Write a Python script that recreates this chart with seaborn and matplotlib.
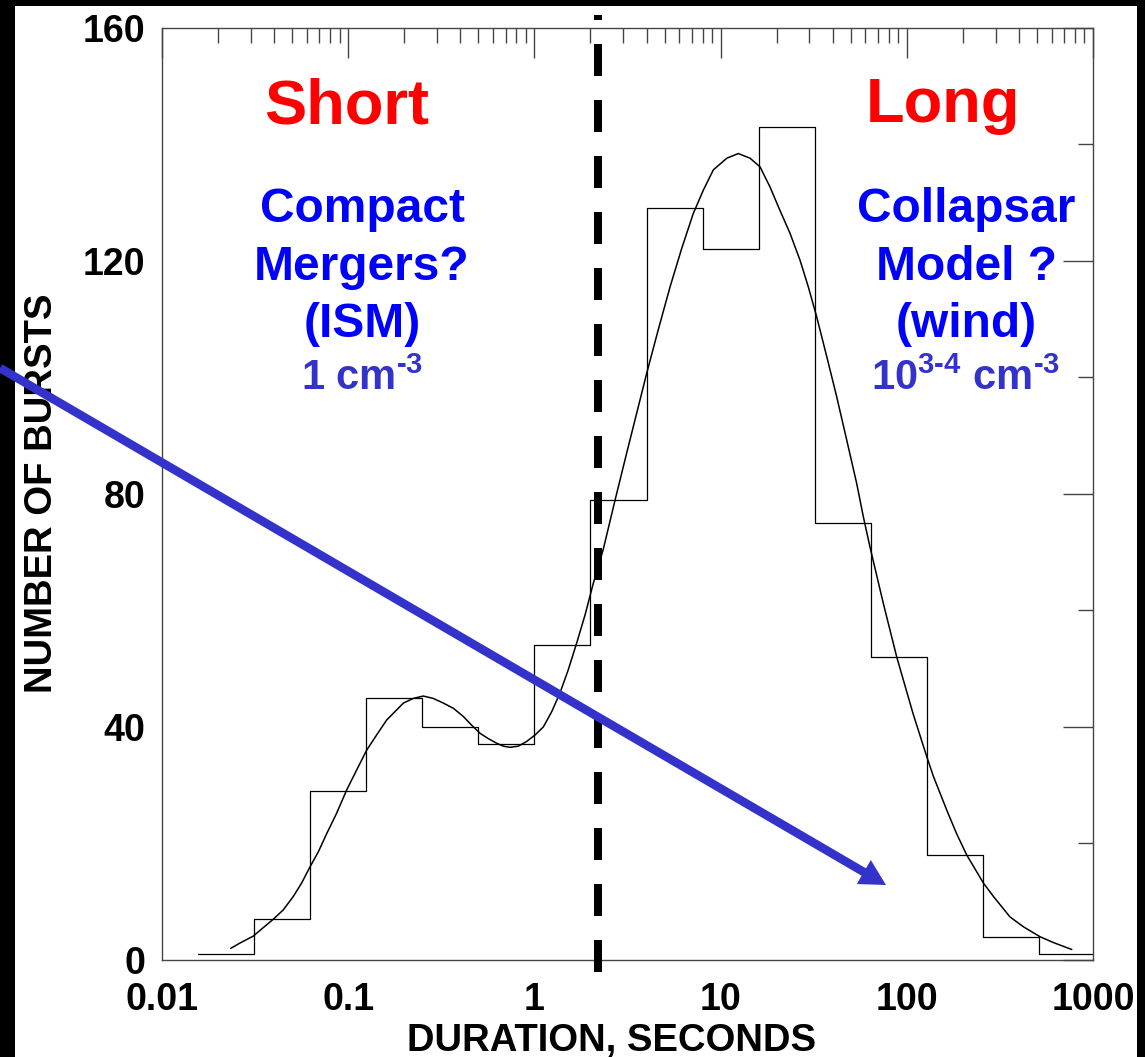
import numpy as np
import pandas as pd
import matplotlib
matplotlib.use("Agg")
import matplotlib.pyplot as plt
import seaborn as sns
from matplotlib.patches import Rectangle, FancyArrowPatch
from matplotlib.ticker import LogLocator, NullFormatter

# ---------------- data ----------------
bin_edges = [0.015625, 0.03125, 0.0625, 0.125, 0.25, 0.5, 1, 2, 4, 8,
             16, 32, 64, 128, 256, 512, 1024]
bin_counts = [1, 7, 29, 45, 40, 37, 54, 79, 129, 122, 143, 75, 52, 18, 4, 1]

fit_duration = [0.0234, 0.0262, 0.0309, 0.0396, 0.0448, 0.0507, 0.0562, 0.0624,
                0.0692, 0.0767, 0.0867, 0.0982, 0.111, 0.1256, 0.142, 0.161,
                0.178, 0.198, 0.224, 0.253, 0.286, 0.324, 0.367, 0.415, 0.460,
                0.511, 0.565, 0.627, 0.681, 0.740, 0.820, 0.908, 1.007, 1.117,
                1.238, 1.371, 1.52, 1.687, 1.87, 2.07, 2.34, 2.71, 3.13, 3.54,
                4.01, 4.62, 5.35, 6.18, 7.13, 8.07, 9.14, 10.8, 12.45, 14.4,
                16.3, 18.4, 20.8, 23.6, 26.7, 29.6, 32.8, 37.2, 42.0, 47.6,
                53.8, 58.4, 63.4, 74.8, 88.3, 108, 128, 139, 164, 185, 210,
                258, 292, 358, 423, 519, 612, 769]
fit_counts = [2.0, 2.9, 4.1, 7.0, 8.6, 10.9, 13.2, 16.0,
              18.6, 21.7, 25.2, 29.2, 32.6, 36.0, 38.6, 41.2,
              42.6, 44.1, 44.9, 45.3, 44.9, 44.1, 43.2, 41.8, 40.3,
              38.9, 38.0, 37.2, 36.7, 36.5, 36.7, 37.5, 38.6, 40.0,
              42.6, 45.8, 49.8, 54.4, 59.2, 64.6, 70.4, 78.9, 87.0, 93.8,
              100.7, 108.1, 115.5, 122.1, 128.1, 132.1, 135.6, 137.6, 138.4, 137.6,
              136.1, 132.7, 128.7, 124.7, 120.1, 115.5, 110.4, 103.5, 96.7, 89.2,
              81.8, 76.1, 70.9, 61.2, 52.0, 42.3, 34.9, 31.5, 25.7, 21.7, 18.0,
              13.2, 10.9, 7.4, 5.7, 4.0, 3.0, 1.8]

x_ticks = [0.01, 0.1, 1, 10, 100, 1000]
x_tick_labels = ["0.01", "0.1", "1", "10", "100", "1000"]
y_ticks = [0, 40, 80, 120, 160]
y_minor_ticks = [20, 60, 100, 140]
divider_duration = 2.2

# ---------------- style ----------------
sns.set_style("white")
plt.rcParams["font.family"] = ["Liberation Sans", "DejaVu Sans"]
plt.rcParams["font.weight"] = "bold"
plt.rcParams["mathtext.default"] = "regular"
for key in ["text.color", "axes.labelcolor", "xtick.labelcolor", "ytick.labelcolor"]:
    plt.rcParams[key] = "black"

W, H = 1145, 1057
fig = plt.figure(figsize=(W / 100, H / 100), dpi=100, facecolor="black")
fig.patches.append(Rectangle((15 / W, 0), (1137 - 15) / W, (H - 6) / H,
                             transform=fig.transFigure, facecolor="white",
                             edgecolor="none", zorder=-10))

ax_l, ax_r, ax_t, ax_b = 162, 1093, 27.7, 960
ax = fig.add_axes([ax_l / W, (H - ax_b) / H, (ax_r - ax_l) / W, (ax_b - ax_t) / H])
ax.set_facecolor("white")

hist_df = pd.DataFrame({
    "duration": np.sqrt(np.array(bin_edges[:-1]) * np.array(bin_edges[1:])),
    "count": bin_counts,
})
sns.histplot(data=hist_df, x="duration", weights="count",
             bins=[float(v) for v in np.log10(bin_edges)], log_scale=True,
             element="step", fill=False, color="black", linewidth=0.9, ax=ax)

fit_df = pd.DataFrame({"duration": fit_duration, "count": fit_counts})
sns.lineplot(data=fit_df, x="duration", y="count", color="black",
             linewidth=1.1, sort=False, estimator=None, ax=ax)

# dashed divider extending slightly beyond the frame
ax.plot([divider_duration, divider_duration], [-2.06, 162.2], color="black",
        linewidth=5.76, dashes=(4, 3), clip_on=False, zorder=5)

ax.set_xscale("log")
ax.set_xlim(0.01, 1000)
ax.set_ylim(0, 160)
ax.set_xticks(x_ticks, x_tick_labels)
ax.xaxis.set_minor_locator(LogLocator(base=10, subs=np.arange(2, 10)))
ax.xaxis.set_minor_formatter(NullFormatter())
ax.set_yticks(y_ticks, [str(v) for v in y_ticks])
ax.set_yticks(y_minor_ticks, minor=True)

ax.tick_params(which="both", direction="in", top=True, right=True,
               color="#444444", width=1.0, labelcolor="black")
ax.tick_params(which="major", length=21.6)
ax.tick_params(which="minor", length=10.8)
ax.tick_params(axis="x", which="major", labelsize=27, pad=16)
ax.tick_params(axis="y", which="major", labelsize=27, pad=12)
for sp in ax.spines.values():
    sp.set_visible(True)
    sp.set_color("#444444")
    sp.set_linewidth(1.0)

ax.set_xlabel("DURATION, SECONDS", fontsize=27.5, fontweight="bold", color="black")
ax.set_ylabel("NUMBER OF BURSTS", fontsize=27.5, fontweight="bold", color="black")
ax.xaxis.label.set_va("baseline")
ax.xaxis.set_label_coords((612 - ax_l) / (ax_r - ax_l), (ax_b - 1051) / (ax_b - ax_t))
ax.yaxis.set_label_coords((60 - ax_l) / (ax_r - ax_l), (ax_b - 493) / (ax_b - ax_t))


def fx(px):
    return (px - ax_l) / (ax_r - ax_l)


def fy(py):
    return (ax_b - py) / (ax_b - ax_t)


red, blue, purple = "#FF0000", "#0000FF", "#3333CC"
ax.text(fx(347), fy(123), "Short", color=red, fontsize=45.5, ha="center",
        va="baseline", transform=ax.transAxes)
ax.text(fx(943), fy(122), "Long", color=red, fontsize=45.5, ha="center",
        va="baseline", transform=ax.transAxes)

for i, line in enumerate(["Compact", "Mergers?", "(ISM)"]):
    ax.text(fx(362), fy(222 + 57.5 * i), line, color=blue, fontsize=34.5,
            ha="center", va="baseline", transform=ax.transAxes)
for i, line in enumerate(["Collapsar", "Model ?", "(wind)"]):
    ax.text(fx(966), fy(222 + 57.5 * i), line, color=blue, fontsize=34.5,
            ha="center", va="baseline", transform=ax.transAxes)

ax.text(fx(362), fy(390), "1 cm$^{\u20103}$", color=purple, fontsize=30,
        ha="center", va="baseline", transform=ax.transAxes)
ax.text(fx(966), fy(390), "10$^{3\u20104}$ cm$^{\u20103}$", color=purple,
        fontsize=30, ha="center", va="baseline", transform=ax.transAxes)

# blue arrow crossing the plot (figure pixel coordinates)
arrow = FancyArrowPatch((0 / W, (H - 368) / H), (886 / W, (H - 885) / H),
                        transform=fig.transFigure,
                        arrowstyle="simple,head_length=1.85,head_width=2.0,tail_width=0.62",
                        mutation_scale=10, facecolor=purple, edgecolor="none",
                        linewidth=0, shrinkA=0, shrinkB=0, zorder=20)
fig.add_artist(arrow)

fig.savefig("out.png", dpi=100, facecolor=fig.get_facecolor())
